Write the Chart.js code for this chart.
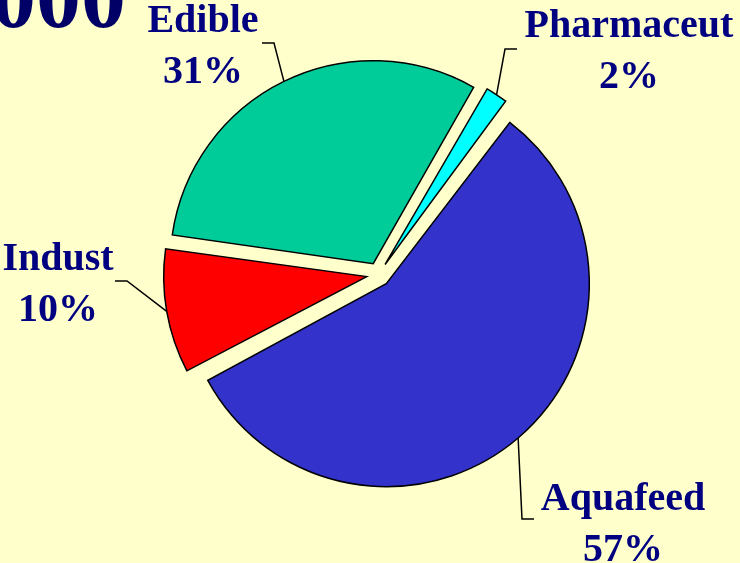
<!DOCTYPE html>
<html>
<head>
<meta charset="utf-8">
<script src="https://cdn.jsdelivr.net/npm/chart.js@4"></script>
<style>
    html, body { margin: 0; padding: 0; background: #FFFFCC; overflow: hidden; }
    canvas { display: block; }
</style>
</head>
<body>
<canvas id="UsesChart" width="740" height="563"></canvas>
<script>
var categories = ["Aquafeed", "Indust", "Edible", "Pharmaceut"];
var shares = [57, 10, 31, 2];
var shareLabels = ["57%", "10%", "31%", "2%"];
var titleText = "2000";

var sliceColors = ["#3333CC", "#FF0000", "#00CC99", "#00FFFF"];
var textColor = "#000080";
var labelFont = 'bold 40px "Liberation Serif", "Times New Roman", serif';
var pieRadius = 203;
var gap = 12;

// label text spot and leader line bends, per slice
var labelLayout = [
    { x: 623, y: 510, bend: [[522, 519], [534, 519]] },
    { x: 58, y: 270, bend: [[127, 281], [115, 281]] },
    { x: 203, y: 32, bend: [[274, 43], [262, 43]] },
    { x: 629, y: 37, bend: [[505, 49], [517, 49]] }
];

var labelPlugin = {
    id: "pieLabels",
    afterDatasetUpdate: function (chart) {
        // chart.js grows an offset arc's radius by offset/4 * fix; undo that so all slices match
        chart.getDatasetMeta(0).data.forEach(function (arc) {
            var circ = arc.endAngle - arc.startAngle;
            var fix = 1 - Math.sin(Math.min(Math.PI, circ));
            arc.outerRadius = pieRadius - gap * fix;
        });
    },
    afterDraw: function (chart) {
        var ctx = chart.ctx;
        var arcs = chart.getDatasetMeta(0).data;

        ctx.save();
        ctx.fillStyle = "#000066";
        ctx.font = 'bold 90px "Liberation Serif", "Times New Roman", serif';
        ctx.textAlign = "right";
        ctx.textBaseline = "alphabetic";
        ctx.fillText(titleText, 126, 27);

        arcs.forEach(function (arc, i) {
            var mid = (arc.startAngle + arc.endAngle) / 2;
            var r = pieRadius + gap;
            var ax = arc.x + Math.cos(mid) * r;
            var ay = arc.y + Math.sin(mid) * r;
            var lay = labelLayout[i];

            ctx.strokeStyle = "#000000";
            ctx.lineWidth = 1.5;
            ctx.beginPath();
            ctx.moveTo(ax, ay);
            lay.bend.forEach(function (p) { ctx.lineTo(p[0], p[1]); });
            ctx.stroke();

            ctx.fillStyle = textColor;
            ctx.font = labelFont;
            ctx.textAlign = "center";
            ctx.fillText(categories[i], lay.x, lay.y);
            ctx.fillText(shareLabels[i], lay.x, lay.y + 51);
        });
        ctx.restore();
    }
};

function setupPie() {
    var context = document.getElementById("UsesChart").getContext("2d");
    var usesChart = new Chart(context, {
        type: "pie",
        data: {
            labels: categories,
            datasets: [{
                data: shares,
                backgroundColor: sliceColors,
                borderColor: "#000000",
                borderWidth: 1.5,
                borderJoinStyle: "miter",
                offset: gap * 4,
                radius: pieRadius
            }]
        },
        options: {
            responsive: false,
            animation: false,
            rotation: 36.9,
            layout: { padding: { left: 17, right: 0, top: 0, bottom: 14 } },
            plugins: {
                legend: { display: false },
                tooltip: { enabled: false }
            }
        },
        plugins: [labelPlugin]
    });
}

setupPie();
</script>
</body>
</html>
